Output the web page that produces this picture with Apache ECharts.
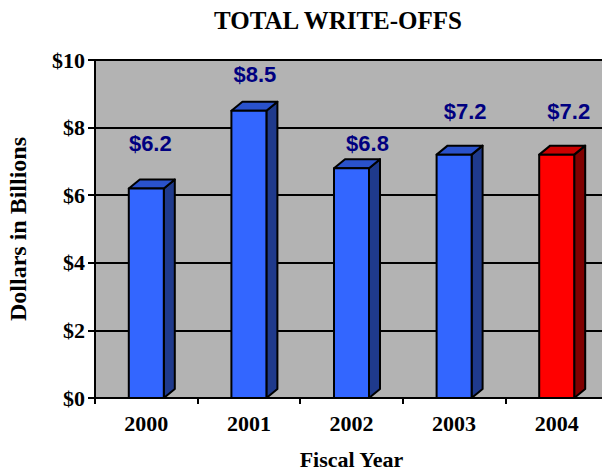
<!DOCTYPE html>
<html><head><meta charset="utf-8">
<script src="https://cdn.jsdelivr.net/npm/echarts@6/dist/echarts.min.js"></script>
<style>html,body{margin:0;padding:0;background:#fff}#c{width:602px;height:471px}</style>
</head><body><div id="c"></div>
<script>
// ---- data ----
const chartTitle = 'TOTAL WRITE-OFFS';
const categories = ['2000', '2001', '2002', '2003', '2004'];
const writeOffs = [6.2, 8.5, 6.8, 7.2, 7.2];
const highlightYear = '2004';
const yAxisTitle = 'Dollars in Billions';
const xAxisTitle = 'Fiscal Year';

// ---- styles ----
const SERIF = '"Liberation Serif", "Times New Roman", serif';
const SANS = '"Liberation Sans", Arial, sans-serif';
const BLUE = { front: '#3366ff', side: '#1f3a8c', top: '#2a52cc' };
const RED = { front: '#ff0000', side: '#800000', top: '#cc0000' };
const FRONT_W = 35, DEPTH_X = 11, DEPTH_Y = 9;
const LABEL_SHIFT = [[4, -45], [6, -36], [16, -25], [11, -43], [12, -43]];

const chart = echarts.init(document.getElementById('c'), null, { renderer: 'svg' });

chart.setOption({
  animation: false,
  backgroundColor: '#ffffff',
  title: {
    text: chartTitle, left: 333, top: 3, textAlign: 'center',
    textStyle: { fontFamily: SERIF, fontWeight: 'bold', fontSize: 25, color: '#000' }
  },
  grid: { left: 95, top: 60, right: -6, bottom: 73, show: true, backgroundColor: '#b3b3b3', borderWidth: 0,
    outerBoundsMode: 'none', containLabel: false },
  xAxis: {
    type: 'category', data: categories,
    axisLine: { lineStyle: { color: '#000', width: 2 } },
    axisTick: { show: true, length: 6, alignWithLabel: false, interval: 0, lineStyle: { color: '#000', width: 2 } },
    axisLabel: { margin: 14, fontFamily: SERIF, fontWeight: 'bold', fontSize: 22, color: '#000' },
    name: xAxisTitle, nameLocation: 'middle', nameGap: 50,
    nameTextStyle: { fontFamily: SERIF, fontWeight: 'bold', fontSize: 22, color: '#000' }
  },
  yAxis: {
    type: 'value', min: 0, max: 10, interval: 2,
    axisLine: { show: true, lineStyle: { color: '#000', width: 2 } },
    axisTick: { show: true, length: 7, lineStyle: { color: '#000', width: 2 } },
    axisLabel: { margin: 10, formatter: v => '$' + v, fontFamily: SERIF, fontWeight: 'bold', fontSize: 22, color: '#000' },
    splitLine: { show: true, lineStyle: { color: '#000', width: 2 } },
    name: yAxisTitle, nameLocation: 'middle', nameGap: 65,
    nameTextStyle: { fontFamily: SERIF, fontWeight: 'bold', fontSize: 24, color: '#000' }
  },
  series: [{
    type: 'custom',
    data: writeOffs.map((v, i) => [i, v]),
    encode: { x: 0, y: 1 },
    renderItem: function (params, api) {
      const i = api.value(0), v = api.value(1);
      const top = api.coord([i, v]);
      const base = api.coord([i, 0]);
      const cx = top[0];
      const L = cx - FRONT_W / 2, R = cx + FRONT_W / 2;
      const ty = top[1], by = base[1];
      const c = categories[i] === highlightYear ? RED : BLUE;
      const stroke = { stroke: '#000', lineWidth: 2, lineJoin: 'round' };
      const sh = LABEL_SHIFT[i];
      return {
        type: 'group',
        children: [
          { type: 'polygon', shape: { points: [[R, by], [R, ty], [R + DEPTH_X, ty - DEPTH_Y], [R + DEPTH_X, by - DEPTH_Y]] },
            style: Object.assign({ fill: c.side }, stroke) },
          { type: 'polygon', shape: { points: [[L, ty], [L + DEPTH_X, ty - DEPTH_Y], [R + DEPTH_X, ty - DEPTH_Y], [R, ty]] },
            style: Object.assign({ fill: c.top }, stroke) },
          { type: 'rect', shape: { x: L, y: ty, width: FRONT_W, height: by - ty },
            style: Object.assign({ fill: c.front }, stroke) },
          { type: 'text', x: cx + sh[0], y: ty + sh[1],
            style: { text: '$' + v.toFixed(1), align: 'center', verticalAlign: 'middle',
              font: 'bold 22px ' + SANS, fill: '#000080' } }
        ]
      };
    }
  }]
});
</script>
</body></html>
